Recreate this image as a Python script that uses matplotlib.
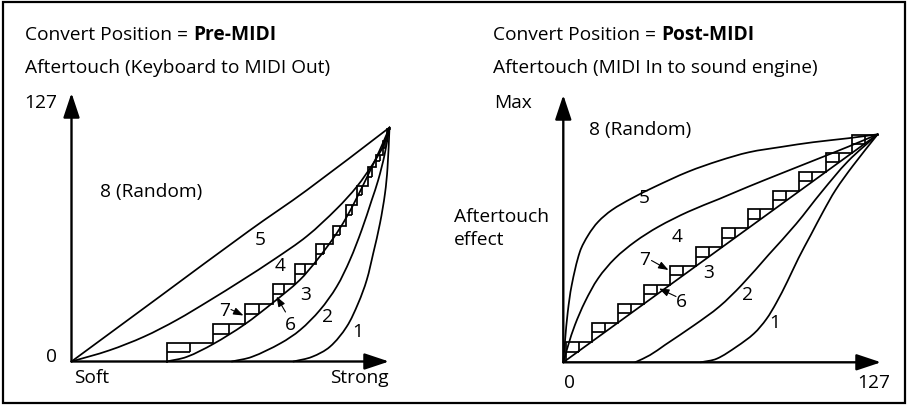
import numpy as np
import matplotlib
matplotlib.use("Agg")
import matplotlib.pyplot as plt
from matplotlib.path import Path
from matplotlib.patches import PathPatch, Rectangle
from matplotlib.collections import LineCollection
from matplotlib.transforms import Affine2D

# ------------------------------------------------------------------ data
# Left panel: Convert Position = Pre-MIDI  (x: pressure Soft..Strong, y: 0..127)
pre_c1_x = [88.6, 96, 103.2, 109.9, 114.5, 117.9, 120.5, 123.2, 125.2, 126.2, 127]
pre_c1_y = [0, 2.5, 8, 18.9, 31.6, 44.2, 58.7, 75, 91.2, 105, 127]
pre_c2_x = [64, 72, 83.5, 91.3, 99.2, 105.9, 111.2, 115.9, 119.9, 122.5, 125, 127]
pre_c2_y = [0, 2.5, 9.9, 17.1, 27.9, 40.6, 55.1, 71.4, 87.6, 98.5, 112, 127]
pre_c3_x = [38, 46, 56.6, 69, 80.5, 91, 98, 104.6, 109.5, 114, 118, 121.5, 124.5, 127]
pre_c3_y = [0, 2.5, 9.5, 20, 32, 44, 55, 67, 77.5, 89, 100, 110, 119, 127]
pre_c4_x = [0, 15, 29, 42, 55, 68, 81, 94, 106, 114, 120.5, 124.5, 127]
pre_c4_y = [0, 6, 13.5, 22.5, 33, 44, 55.5, 68, 83, 95, 107.5, 117, 127]
pre_c5_x = [0, 35, 71, 94, 127]
pre_c5_y = [0, 35, 71, 93, 127]
pre_step_x = [38.0, 56.6, 69.1, 80.3, 89.1, 97.6, 104.4, 109.7, 114.0, 118.4, 121.7, 124.4, 126.1]
pre_step_y = [9.9, 20.2, 31.2, 41.9, 52.9, 63.6, 73.6, 85.1, 95.5, 105.3, 112.0, 119.8, 126.2]

# Right panel: Convert Position = Post-MIDI (x: 0..127, y: effect 0..Max)
post_c1_x = [55.5, 62, 70, 77, 82, 86, 90.5, 95, 100, 105, 110, 117, 127]
post_c1_y = [0, 2, 8.7, 16, 24, 33, 45, 58, 71, 84, 96, 109.5, 127]
post_c2_x = [29, 35, 41, 53, 63, 72, 83, 94, 104.4, 115, 127]
post_c2_y = [0, 4, 9.6, 20.8, 31, 43, 60, 77, 95, 112, 127]
post_c3_x = [0, 127]
post_c3_y = [0, 127]
post_c4_x = [0, 2, 4.7, 8.8, 14.1, 20.9, 29, 38.4, 50.5, 63, 74.7, 88.2, 101.7, 115.1, 127]
post_c4_y = [0, 9.6, 20.8, 33.8, 46.8, 57.9, 67.2, 75.5, 83.9, 91, 97.8, 105.3, 112.7, 120.1, 127]
post_c5_x = [0, 0.7, 1.8, 3.4, 6.7, 10.1, 14.1, 19.6, 27.6, 37, 50.5, 63, 75, 88.2, 101, 115.1, 127]
post_c5_y = [0, 12, 28, 43, 61.6, 70.9, 78.3, 84.8, 91.3, 97.8, 106.2, 112.3, 117, 120, 122.6, 124.8, 127]
post_step_x = [1.0, 11.5, 22.2, 32.7, 43.1, 53.5, 64.0, 74.5, 84.8, 95.3, 106.0, 116.5]
post_step_y = [11.5, 22.1, 32.5, 43.1, 53.6, 64.1, 74.6, 85.2, 95.6, 106.2, 116.4, 126.6]

curve_labels = ["1", "2", "3", "4", "5"]

# ------------------------------------------------------------------ setup
FONT = "Open Sans"
plt.rcParams["font.family"] = [FONT, "DejaVu Sans"]
W, H = 907, 405
LW = 1.25
AXLW = 1.7

fig = plt.figure(figsize=(W / 100, H / 100), dpi=100)
fig.patch.set_facecolor("white")
renderer = fig.canvas.get_renderer()
PX = Affine2D().scale(1, -1).translate(0, H)   # pixel coords, origin top-left


def text_width(s, size, weight="normal"):
    t = fig.text(0, 0, s, fontsize=size, fontweight=weight)
    w = t.get_window_extent(renderer).width
    t.remove()
    return w


FS = 10 * 305 / text_width("Aftertouch (Keyboard to MIDI Out)", 10)


def ptext(x, y, s, ha="left", va="baseline", weight="normal", size=None):
    return fig.text(x, y, s, transform=PX, ha=ha, va=va, fontsize=size or FS,
                    fontweight=weight, color="black")


def smooth(ax, xs, ys, sx, sy):
    P = np.column_stack([np.asarray(xs, float) * sx, np.asarray(ys, float) * sy])
    n = len(P)
    if n == 2:
        path = Path(P / [sx, sy])
    else:
        T = np.zeros_like(P)
        T[0] = P[1] - P[0]
        T[-1] = P[-1] - P[-2]
        T[1:-1] = P[2:] - P[:-2]
        T /= np.linalg.norm(T, axis=1)[:, None]
        verts = [P[0]]
        codes = [Path.MOVETO]
        for i in range(n - 1):
            d = np.linalg.norm(P[i + 1] - P[i])
            verts += [P[i] + T[i] * d / 3, P[i + 1] - T[i + 1] * d / 3, P[i + 1]]
            codes += [Path.CURVE4] * 3
        path = Path(np.array(verts) / [sx, sy], codes)
    ax.add_patch(PathPatch(path, fill=False, lw=LW, ec="black",
                           capstyle="round", joinstyle="round", clip_on=False))


def stairs(ax, sx_list, sy_list):
    xs = [sx_list[0]] + list(sx_list) + [127]
    ys = [0] + list(sy_list) + [sy_list[-1]]
    ax.step(xs, ys, where="post", color="black", lw=LW, clip_on=False,
            solid_joinstyle="miter")
    segs = []
    for i, (x, y) in enumerate(zip(sx_list, sy_list)):
        prev = sy_list[i - 1] if i > 0 else 0
        nxt = sx_list[i + 1] if i + 1 < len(sx_list) else 127
        ym = y - 0.5 * (y - prev)
        xd = x + 0.5 * (nxt - x)
        segs.append([(x, ym), (xd, ym)])
        segs.append([(xd, ym), (xd, y)])
    ax.add_collection(LineCollection(segs, colors="black", linewidths=LW, clip_on=False))


def panel(x0, x1, y0, y1):
    ax = fig.add_axes([x0 / W, 1 - y0 / H, (x1 - x0) / W, (y0 - y1) / H])
    ax.set_xlim(0, 127)
    ax.set_ylim(0, 127)
    ax.axis("off")
    return ax, (x1 - x0) / 127, (y0 - y1) / 127


def axis_arrow(x_from, y_from, x_to, y_to):
    fig.add_artist(matplotlib.patches.FancyArrowPatch(
        (x_from, y_from), (x_to, y_to), transform=PX,
        arrowstyle="-|>,head_length=0.75,head_width=0.25", mutation_scale=20,
        lw=AXLW, color="black", shrinkA=0, shrinkB=0))


def small_arrow(x_from, y_from, x_to, y_to):
    fig.add_artist(matplotlib.patches.FancyArrowPatch(
        (x_from, y_from), (x_to, y_to), transform=PX,
        arrowstyle="-|>,head_length=0.6,head_width=0.22", mutation_scale=10,
        lw=0.8, color="black", shrinkA=0, shrinkB=0))


def title(x, y, normal, bold):
    t = ptext(x, y, normal)
    w1 = t.get_window_extent(renderer).x1
    sp = text_width("a a", FS) - text_width("aa", FS)
    ptext(w1 + sp, y, bold, weight="bold")


# ------------------------------------------------------------------ left panel
axL, sxL, syL = panel(71.5, 389.5, 361.5, 127.5)
for xs, ys in [(pre_c1_x, pre_c1_y), (pre_c2_x, pre_c2_y), (pre_c3_x, pre_c3_y),
               (pre_c4_x, pre_c4_y), (pre_c5_x, pre_c5_y)]:
    smooth(axL, xs, ys, sxL, syL)
stairs(axL, pre_step_x, pre_step_y)
axis_arrow(71.5, 361.5, 71.5, 93)
axis_arrow(71.5, 361.5, 389, 361.5)

title(25, 39.5, "Convert Position =", "Pre-MIDI")
ptext(25, 73.3, "Aftertouch (Keyboard to MIDI Out)")
ptext(57, 108.3, "127", ha="right")
ptext(57, 361.7, "0", ha="right")
ptext(74, 383.3, "Soft")
ptext(388.5, 383.3, "Strong", ha="right")
ptext(100, 197.3, "8 (Random)")
for lab, (lx, ly) in zip(curve_labels, [(357.7, 336.7), (327.3, 321.7), (306, 300),
                                       (280, 270.7), (260, 245)]):
    ptext(lx, ly, lab, ha="center")
ptext(225, 316, "7", ha="center")
small_arrow(231, 309.5, 243.5, 315.5)
ptext(290, 330, "6", ha="center")
small_arrow(285.5, 312, 276.5, 296.5)

# ------------------------------------------------------------------ right panel
axR, sxR, syR = panel(563.3, 877.7, 362.3, 134.3)
for xs, ys in [(post_c1_x, post_c1_y), (post_c2_x, post_c2_y), (post_c3_x, post_c3_y),
               (post_c4_x, post_c4_y), (post_c5_x, post_c5_y)]:
    smooth(axR, xs, ys, sxR, syR)
stairs(axR, post_step_x, post_step_y)
axis_arrow(563.3, 362.3, 563.3, 95)
axis_arrow(563.3, 362.3, 881, 362.3)

title(493.3, 39.5, "Convert Position =", "Post-MIDI")
ptext(493.3, 73.3, "Aftertouch (MIDI In to sound engine)")
ptext(494, 108.3, "Max")
ptext(454, 221.7, "Aftertouch")
ptext(454, 245, "effect")
ptext(569.8, 388.3, "0", ha="center")
ptext(890.7, 388.3, "127", ha="right")
ptext(589, 135, "8 (Random)")
for lab, (lx, ly) in zip(curve_labels, [(774.7, 328.3), (747.3, 300), (709, 277.7),
                                       (676.7, 242.3), (644.7, 203.3)]):
    ptext(lx, ly, lab, ha="center")
ptext(645, 265, "7", ha="center")
small_arrow(651.5, 260.5, 668.5, 270)
ptext(681.7, 306.7, "6", ha="center")
small_arrow(676, 296.5, 659, 288.5)

# ------------------------------------------------------------------ frame
fig.add_artist(Rectangle((2.5, 1.5), 902.5, 401.5, transform=PX, fill=False,
                         lw=1.6, ec="black"))

fig.savefig("out.png", dpi=100, facecolor="white")
